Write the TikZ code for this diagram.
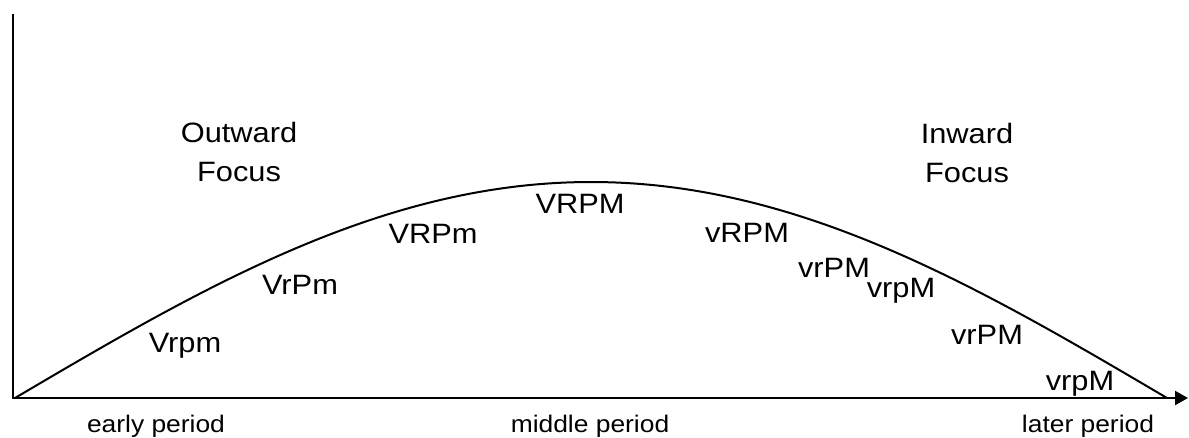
\documentclass[tikz,border=0pt]{standalone}
\usepackage{fontspec}
\setmainfont[FakeStretch=1.1]{Liberation Sans}
\usetikzlibrary{arrows.meta}

\begin{document}
\begin{tikzpicture}
  [x=1pt,y=-1pt,every node/.style={inner sep=0pt,anchor=base,font=\fontsize{28}{39}\selectfont},
   period/.style={font=\fontsize{24}{28}\selectfont},
   axis/.style={line width=2.2pt}]
  \useasboundingbox (0,0) rectangle (1189,437);
  \coordinate (o) at (13,398);
  \coordinate (ytop) at (13,14);
  \coordinate (xend) at (1188,398);

  \draw[axis,-{Triangle[length=13pt,width=14pt]}] (ytop) -- (o) -- (xend);
  \draw[line width=2pt] plot[domain=15:1167,samples=120,smooth] (\x,{398-216*sin(0.15625*(\x-15))});

  \node[align=center] (outward) at (239,181) {Outward\\Focus};
  \node[align=center] (inward) at (967,182) {Inward\\Focus};

  \foreach \name/\px/\py/\txt in {v1/185/352/Vrpm,v2/300/294/VrPm,v3/433/243/VRPm,
      v4/580/213/VRPM,v5/747/242/vRPM,v6/834/277/vrPM,v7/901/297/vrpM,
      v8/987/344/vrPM,v9/1080/390/vrpM}
    \node (\name) at (\px,\py) {\txt};

  \node[period] (early) at (156,432) {early period};
  \node[period] (middle) at (590,432) {middle period};
  \node[period] (later) at (1088,432) {later period};

\end{tikzpicture}
\end{document}
